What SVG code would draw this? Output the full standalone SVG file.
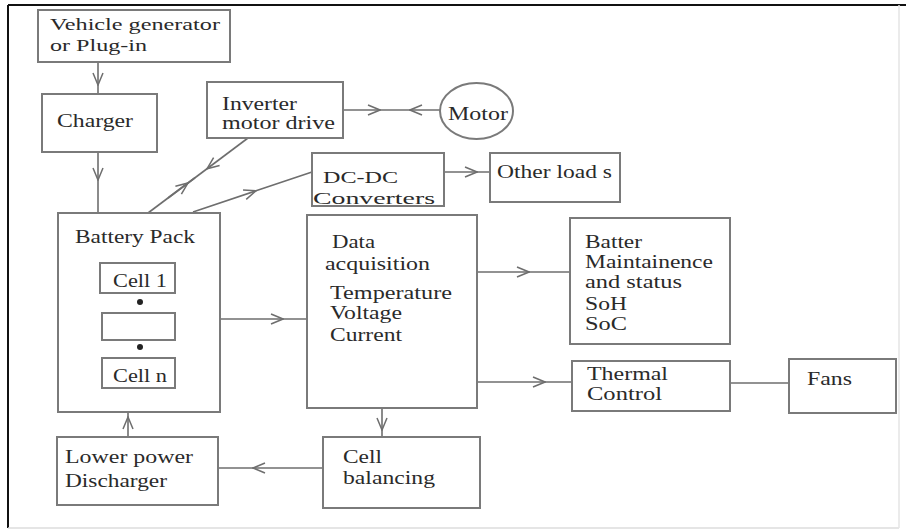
<svg xmlns="http://www.w3.org/2000/svg" width="906" height="531" viewBox="0 0 906 531">
<style>
.box{fill:none;stroke:#7a7a7a;stroke-width:2}
.t{font-family:"Liberation Serif","Times New Roman",serif;font-size:18px;fill:#2a2a2a}
.s{font-size:16px}
.c{fill:none;stroke:#6e6e6e;stroke-width:1.6;marker-mid:url(#ah)}
.l{fill:none;stroke:#6e6e6e;stroke-width:1.6}
</style>
<defs>
<marker id="ah" viewBox="0 0 14 12" markerWidth="14" markerHeight="12" refX="13" refY="6" orient="auto" markerUnits="userSpaceOnUse">
<path d="M1,1 L13,6 L1,11" fill="none" stroke="#6e6e6e" stroke-width="1.5"/>
</marker>
</defs>
<rect width="906" height="531" fill="#fff"/>
<g id="frame">
<line x1="8" y1="5" x2="906" y2="5" stroke="#111" stroke-width="2"/>
<line x1="8" y1="5" x2="8" y2="528" stroke="#111" stroke-width="2"/>
<line x1="8" y1="528" x2="899" y2="528" stroke="#ddd" stroke-width="1.5"/>
<line x1="899" y1="5" x2="899" y2="528" stroke="#e4e4e4" stroke-width="1.5"/>
</g>
<g id="connectors">
<path class="c" d="M98,62 L98,85 L98,94"/>
<path class="c" d="M98,152 L98,180 L98,213"/>
<path class="c" d="M343,110 L380,110 L395,110"/>
<path class="c" d="M440,110 L410,110 L395,110"/>
<path class="c" d="M248,138 L207,168.75 L148,213"/>
<path class="c" d="M168,198 L188,183 L195,177.75"/>
<path class="c" d="M193,212 L256,190.8 L312,172"/>
<path class="c" d="M444,172 L477,172 L490,172"/>
<path class="c" d="M220,319 L283,319 L307,319"/>
<path class="c" d="M477,272 L529,272 L570,272"/>
<path class="c" d="M477,382 L545,382 L572,382"/>
<path class="l" d="M730,383 L789,383"/>
<path class="c" d="M382,408 L382,430 L382,437"/>
<path class="c" d="M323,468 L253,468 L218,468"/>
<path class="c" d="M128,437 L128,417 L128,412"/>
</g>
<g id="vehicle">
<rect class="box" x="38" y="10" width="192" height="52"/>
<text class="t s" x="50" y="30" textLength="170" lengthAdjust="spacingAndGlyphs">Vehicle generator</text>
<text class="t s" x="50" y="51" textLength="97" lengthAdjust="spacingAndGlyphs">or Plug-in</text>
</g>
<g id="charger">
<rect class="box" x="42" y="94" width="115" height="58"/>
<text class="t" x="57" y="127" textLength="76" lengthAdjust="spacingAndGlyphs">Charger</text>
</g>
<g id="inverter">
<rect class="box" x="207" y="82" width="136" height="56"/>
<text class="t" x="222" y="110" textLength="75" lengthAdjust="spacingAndGlyphs">Inverter</text>
<text class="t" x="222" y="129" textLength="113" lengthAdjust="spacingAndGlyphs">motor drive</text>
</g>
<g id="motor">
<ellipse class="box" cx="476.5" cy="111" rx="36.5" ry="28"/>
<text class="t" x="448" y="120" textLength="60" lengthAdjust="spacingAndGlyphs">Motor</text>
</g>
<g id="dcdc">
<rect class="box" x="312" y="153" width="132" height="53"/>
<text class="t s" x="323" y="183" textLength="75" lengthAdjust="spacingAndGlyphs">DC-DC</text>
<text class="t s" x="313" y="204" textLength="122" lengthAdjust="spacingAndGlyphs">Converters</text>
</g>
<g id="otherloads">
<rect class="box" x="490" y="153" width="130" height="49"/>
<text class="t" x="497" y="178" textLength="115" lengthAdjust="spacingAndGlyphs">Other load s</text>
</g>
<g id="battery">
<rect class="box" x="58" y="213" width="162" height="199"/>
<text class="t" x="75" y="243" textLength="120" lengthAdjust="spacingAndGlyphs">Battery Pack</text>
<rect class="box" x="100" y="263" width="75" height="30"/>
<text class="t" x="113" y="287" textLength="54" lengthAdjust="spacingAndGlyphs">Cell 1</text>
<circle cx="140" cy="302" r="3" fill="#222"/>
<rect class="box" x="102" y="313" width="73" height="27"/>
<circle cx="140" cy="347" r="3" fill="#222"/>
<rect class="box" x="102" y="358" width="73" height="30"/>
<text class="t" x="113" y="382" textLength="54" lengthAdjust="spacingAndGlyphs">Cell n</text>
</g>
<g id="discharger">
<rect class="box" x="57" y="437" width="161" height="68"/>
<text class="t" x="65" y="463" textLength="128" lengthAdjust="spacingAndGlyphs">Lower power</text>
<text class="t" x="65" y="487" textLength="102" lengthAdjust="spacingAndGlyphs">Discharger</text>
</g>
<g id="dataacq">
<rect class="box" x="307" y="215" width="170" height="193"/>
<text class="t" x="332" y="248" textLength="43" lengthAdjust="spacingAndGlyphs">Data</text>
<text class="t" x="325" y="270" textLength="105" lengthAdjust="spacingAndGlyphs">acquisition</text>
<text class="t" x="330" y="299" textLength="122" lengthAdjust="spacingAndGlyphs">Temperature</text>
<text class="t" x="330" y="319" textLength="72" lengthAdjust="spacingAndGlyphs">Voltage</text>
<text class="t" x="330" y="341" textLength="72" lengthAdjust="spacingAndGlyphs">Current</text>
</g>
<g id="batter">
<rect class="box" x="570" y="218" width="160" height="126"/>
<text class="t" x="585" y="248" textLength="57" lengthAdjust="spacingAndGlyphs">Batter</text>
<text class="t" x="585" y="268" textLength="128" lengthAdjust="spacingAndGlyphs">Maintainence</text>
<text class="t" x="585" y="288" textLength="97" lengthAdjust="spacingAndGlyphs">and status</text>
<text class="t" x="585" y="310" textLength="42" lengthAdjust="spacingAndGlyphs">SoH</text>
<text class="t" x="585" y="330" textLength="42" lengthAdjust="spacingAndGlyphs">SoC</text>
</g>
<g id="thermal">
<rect class="box" x="572" y="361" width="158" height="50"/>
<text class="t" x="587" y="380" textLength="81" lengthAdjust="spacingAndGlyphs">Thermal</text>
<text class="t" x="587" y="400" textLength="75" lengthAdjust="spacingAndGlyphs">Control</text>
</g>
<g id="fans">
<rect class="box" x="789" y="359" width="107" height="54"/>
<text class="t" x="807" y="385" textLength="45" lengthAdjust="spacingAndGlyphs">Fans</text>
</g>
<g id="cellbal">
<rect class="box" x="323" y="437" width="157" height="71"/>
<text class="t" x="343" y="463" textLength="39" lengthAdjust="spacingAndGlyphs">Cell</text>
<text class="t" x="343" y="484" textLength="92" lengthAdjust="spacingAndGlyphs">balancing</text>
</g>
</svg>
